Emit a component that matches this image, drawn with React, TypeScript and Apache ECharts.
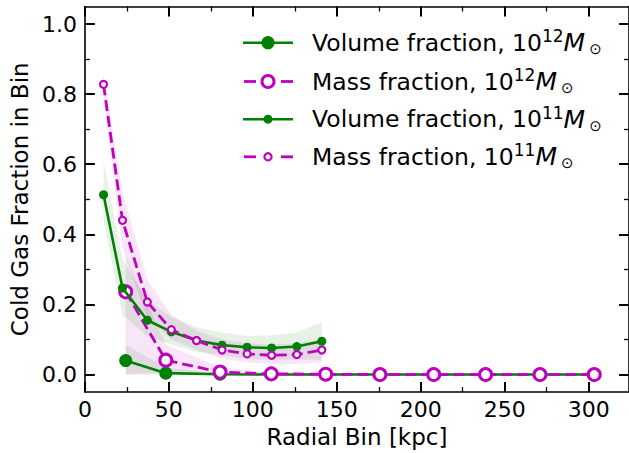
import React, { useEffect, useRef } from "react";
import * as echarts from "echarts";

// Radial bin centres [kpc]
const binsHalo12 = [24.3, 48.2, 80.5, 111, 143.4, 175.7, 207.7, 238.6, 271, 303.3];
const binsHalo11 = [11.1, 22.4, 37.2, 51.5, 66.5, 81.7, 96.6, 111.2, 126.2, 141.1];

// Median cold gas fractions
const volume12 = [0.04, 0.004, 0.001, 0, 0, 0, 0, 0, 0, 0];
const mass12 = [0.236, 0.041, 0.007, 0.002, 0.001, 0, 0, 0, 0, 0];
const volume11 = [0.513, 0.247, 0.155, 0.122, 0.097, 0.084, 0.078, 0.076, 0.08, 0.095];
const mass11 = [0.828, 0.44, 0.207, 0.128, 0.097, 0.07, 0.059, 0.055, 0.057, 0.07];

// Scatter envelopes (lower / upper)
const volume12Lo = [0, 0, 0, 0, 0, 0, 0, 0, 0, 0];
const volume12Hi = [0.085, 0.02, 0.003, 0.001, 0, 0, 0, 0, 0, 0];
const mass12Lo = [0, 0.005, 0, 0, 0, 0, 0, 0, 0, 0];
const mass12Hi = [0.34, 0.085, 0.02, 0.006, 0.003, 0.001, 0, 0, 0, 0];
const volume11Lo = [0.44, 0.17, 0.11, 0.085, 0.065, 0.055, 0.045, 0.042, 0.042, 0.042];
const volume11Hi = [0.61, 0.33, 0.21, 0.165, 0.135, 0.12, 0.11, 0.112, 0.12, 0.15];
const mass11Lo = [0.79, 0.36, 0.16, 0.1, 0.07, 0.045, 0.035, 0.03, 0.03, 0.035];
const mass11Hi = [0.86, 0.52, 0.27, 0.17, 0.125, 0.1, 0.09, 0.085, 0.09, 0.1];

// Tick positions
const xMajorTicks = [0, 50, 100, 150, 200, 250, 300];
const xMinorTicks = [25, 75, 125, 175, 225, 275];
const yMajorTicks = [0, 0.2, 0.4, 0.6, 0.8, 1.0];
const yMinorTicks = [0.1, 0.3, 0.5, 0.7, 0.9];

const legendLabels = [
  { text: "Volume fraction, 10", exp: "12" },
  { text: "Mass fraction, 10", exp: "12" },
  { text: "Volume fraction, 10", exp: "11" },
  { text: "Mass fraction, 10", exp: "11" },
];

const GREEN = "#008000";
const MAGENTA = "#bf00bf";
const FONT = "DejaVu Sans";

const X_MIN = 0;
const X_MAX = 324;
const Y_MIN = -0.05;
const Y_MAX = 1.05;

function band(xs: number[], lo: number[], hi: number[], color: string) {
  return {
    type: "custom",
    xAxisIndex: 0,
    yAxisIndex: 0,
    silent: true,
    z: 1,
    data: [[xs[0], lo[0]]],
    renderItem: (_params: any, api: any) => {
      const pts: number[][] = [];
      for (let i = 0; i < xs.length; i++) pts.push(api.coord([xs[i], hi[i]]));
      for (let i = xs.length - 1; i >= 0; i--) pts.push(api.coord([xs[i], lo[i]]));
      return {
        type: "polygon",
        shape: { points: pts },
        style: { fill: color, stroke: "none" },
      };
    },
  };
}

function pairs(xs: number[], ys: number[]) {
  return xs.map((x, i) => [x, ys[i]]);
}

function xAxisDef(position: "top" | "bottom", ticks: number[], major: boolean, withLine: boolean, withLabels: boolean) {
  return {
    type: "value",
    min: X_MIN,
    max: X_MAX,
    position,
    splitLine: { show: false },
    axisLine: { show: withLine, onZero: false, lineStyle: { color: "#000", width: 1.6 } },
    axisTick: {
      show: true,
      inside: true,
      length: major ? 10 : 5,
      customValues: ticks,
      lineStyle: { color: "#000", width: major ? 2 : 1.3 },
    },
    axisLabel: withLabels
      ? { show: true, customValues: ticks, fontFamily: FONT, fontSize: 22, color: "#000", margin: 6 }
      : { show: false },
    ...(withLabels
      ? {
          name: "Radial Bin [kpc]",
          nameLocation: "middle",
          nameGap: 30,
          nameTextStyle: { fontFamily: FONT, fontSize: 23, color: "#000" },
        }
      : {}),
  };
}

function yAxisDef(position: "left" | "right", ticks: number[], major: boolean, withLine: boolean, withLabels: boolean) {
  return {
    type: "value",
    min: Y_MIN,
    max: Y_MAX,
    position,
    splitLine: { show: false },
    axisLine: { show: withLine, onZero: false, lineStyle: { color: "#000", width: 1.6 } },
    axisTick: {
      show: true,
      inside: true,
      length: major ? 10 : 5,
      customValues: ticks,
      lineStyle: { color: "#000", width: major ? 2 : 1.3 },
    },
    axisLabel: withLabels
      ? {
          show: true,
          customValues: ticks,
          fontFamily: FONT,
          fontSize: 22,
          color: "#000",
          margin: 8,
          formatter: (v: number) => v.toFixed(1),
        }
      : { show: false },
    ...(withLabels
      ? {
          name: "Cold Gas Fraction in Bin",
          nameLocation: "middle",
          nameGap: 51,
          nameTextStyle: { fontFamily: FONT, fontSize: 23, color: "#000" },
        }
      : {}),
  };
}

function legendGraphics() {
  const rowsY = [42.7, 81.5, 119.2, 156.8];
  const lineX0 = 243;
  const lineX1 = 293;
  const markX = 268;
  const textX = 312;
  const items: any[] = [];
  const rich = {
    t: { fontFamily: FONT, fontSize: 23.5, fill: "#000", lineHeight: 30, verticalAlign: "middle" },
    sup: { fontFamily: FONT, fontSize: 17, fill: "#000", lineHeight: 17, verticalAlign: "top" },
    it: { fontFamily: FONT, fontSize: 25, fontStyle: "italic", fill: "#000", lineHeight: 30, verticalAlign: "middle" },
    sub: { fontFamily: FONT, fontSize: 15, fill: "#000", lineHeight: 15, verticalAlign: "bottom", padding: [0, 0, 1, 4] },
  };
  rowsY.forEach((y, i) => {
    const isMass = i % 2 === 1;
    const big = i < 2;
    const color = isMass ? MAGENTA : GREEN;
    if (isMass) {
      items.push({ type: "line", shape: { x1: lineX0 + 1, y1: y, x2: lineX0 + 13, y2: y }, style: { stroke: color, lineWidth: 2.8 } });
      items.push({ type: "line", shape: { x1: lineX1 - 12, y1: y, x2: lineX1, y2: y }, style: { stroke: color, lineWidth: 2.8 } });
      items.push({
        type: "circle",
        shape: { cx: markX, cy: y, r: big ? 6 : 3.6 },
        style: { fill: "#fff", stroke: color, lineWidth: big ? 3 : 2.2 },
      });
    } else {
      items.push({ type: "line", shape: { x1: lineX0, y1: y, x2: lineX1, y2: y }, style: { stroke: color, lineWidth: 2.6 } });
      items.push({ type: "circle", shape: { cx: markX, cy: y, r: big ? 6.6 : 4.5 }, style: { fill: color } });
    }
    const lab = legendLabels[i];
    items.push({
      type: "text",
      x: textX,
      y,
      style: {
        text: `{t|${lab.text}}{sup|${lab.exp}}{it|M}{sub|⊙}`,
        rich,
        align: "left",
        verticalAlign: "middle",
      },
    });
  });
  return items;
}

export default function App() {
  const ref = useRef<HTMLDivElement>(null);

  useEffect(() => {
    if (!ref.current) return;
    const chart = echarts.init(ref.current, undefined, { renderer: "svg" });
    chart.setOption({
      animation: false,
      backgroundColor: "#fff",
      grid: { left: 84, top: 6.5, right: -1, bottom: 60.7, containLabel: false },
      xAxis: [
        xAxisDef("bottom", xMajorTicks, true, true, true),
        xAxisDef("bottom", xMinorTicks, false, false, false),
        xAxisDef("top", xMajorTicks, true, true, false),
        xAxisDef("top", xMinorTicks, false, false, false),
      ],
      yAxis: [
        yAxisDef("left", yMajorTicks, true, true, true),
        yAxisDef("left", yMinorTicks, false, false, false),
        yAxisDef("right", yMajorTicks, true, true, false),
        yAxisDef("right", yMinorTicks, false, false, false),
      ],
      series: [
        band(binsHalo12, volume12Lo, volume12Hi, "rgba(0,128,0,0.1)"),
        band(binsHalo12, mass12Lo, mass12Hi, "rgba(191,0,191,0.1)"),
        band(binsHalo11, volume11Lo, volume11Hi, "rgba(0,128,0,0.1)"),
        band(binsHalo11, mass11Lo, mass11Hi, "rgba(191,0,191,0.1)"),
        {
          name: "Volume fraction 1e12",
          type: "line",
          z: 3,
          data: pairs(binsHalo12, volume12),
          symbol: "circle",
          symbolSize: 13,
          itemStyle: { color: GREEN },
          lineStyle: { color: GREEN, width: 2.6 },
        },
        {
          name: "Mass fraction 1e12",
          type: "line",
          z: 4,
          data: pairs(binsHalo12, mass12),
          symbol: "circle",
          symbolSize: 12,
          itemStyle: { color: "#fff", borderColor: MAGENTA, borderWidth: 3 },
          lineStyle: { color: MAGENTA, width: 2.8, type: [11, 5] },
        },
        {
          name: "Volume fraction 1e11",
          type: "line",
          z: 5,
          data: pairs(binsHalo11, volume11),
          symbol: "circle",
          symbolSize: 9,
          itemStyle: { color: GREEN },
          lineStyle: { color: GREEN, width: 2.6 },
        },
        {
          name: "Mass fraction 1e11",
          type: "line",
          z: 6,
          data: pairs(binsHalo11, mass11),
          symbol: "circle",
          symbolSize: 7,
          itemStyle: { color: "#fff", borderColor: MAGENTA, borderWidth: 2.2 },
          lineStyle: { color: MAGENTA, width: 2.8, type: [11, 5] },
        },
      ],
      graphic: legendGraphics(),
    });
    return () => chart.dispose();
  }, []);

  return (
    <div
      ref={ref}
      style={{ position: "absolute", left: 0, top: 0, width: 629, height: 453 }}
    />
  );
}
